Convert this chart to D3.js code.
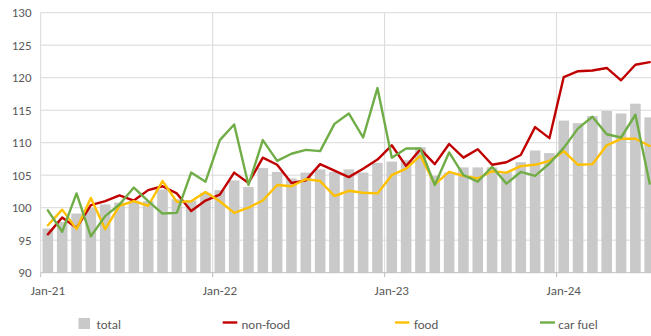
<!DOCTYPE html>
<html>
<head>
<meta charset="utf-8">
<script src="https://cdn.jsdelivr.net/npm/d3@7"></script>
<style>
  html, body { margin: 0; padding: 0; background: #fff; }
  svg { display: block; font-family: Carlito, Lato, "Liberation Sans", sans-serif; }
</style>
</head>
<body>
<svg id="chart" width="651" height="336"></svg>
<script>
// Monthly index values, Jan 2021 – Jul 2024
const months = [
  "2021-01","2021-02","2021-03","2021-04","2021-05","2021-06","2021-07","2021-08","2021-09","2021-10","2021-11","2021-12",
  "2022-01","2022-02","2022-03","2022-04","2022-05","2022-06","2022-07","2022-08","2022-09","2022-10","2022-11","2022-12",
  "2023-01","2023-02","2023-03","2023-04","2023-05","2023-06","2023-07","2023-08","2023-09","2023-10","2023-11","2023-12",
  "2024-01","2024-02","2024-03","2024-04","2024-05","2024-06","2024-07"
];
const total = [96.8, 97.8, 99.1, 100.0, 100.5, 100.8, 101.1, 101.0, 102.8, 101.3, 101.1, 102.3,
               102.7, 104.2, 103.2, 106.1, 105.5, 104.5, 105.4, 105.9, 105.5, 105.9, 105.4, 106.9,
               107.1, 107.3, 109.3, 104.9, 105.4, 106.2, 106.2, 106.2, 105.5, 107.0, 108.8, 108.4,
               113.4, 113.0, 114.1, 114.9, 114.5, 116.0, 113.9];
const nonFood = [95.9, 98.5, 96.9, 100.4, 101.0, 101.9, 101.1, 102.7, 103.3, 102.2, 99.5, 101.1,
                 102.0, 105.4, 103.8, 107.7, 106.6, 103.8, 104.2, 106.7, 105.7, 104.7, 106.0, 107.4,
                 109.6, 106.4, 109.0, 106.7, 109.8, 107.7, 109.0, 106.6, 107.0, 108.1, 112.4, 110.7,
                 120.1, 121.0, 121.1, 121.5, 119.6, 122.0, 122.4];
const food = [97.3, 99.7, 96.7, 101.5, 96.7, 100.3, 101.0, 100.3, 104.1, 100.9, 101.0, 102.4,
              101.0, 99.2, 100.0, 101.1, 103.5, 103.3, 104.4, 104.1, 101.8, 102.6, 102.3, 102.2,
              105.0, 106.0, 108.0, 103.6, 105.5, 104.9, 104.5, 105.6, 105.4, 106.4, 106.6, 107.2,
              108.7, 106.6, 106.7, 109.6, 110.6, 110.6, 109.5];
const carFuel = [99.6, 96.3, 102.2, 95.6, 98.7, 100.5, 103.1, 101.0, 99.1, 99.2, 105.4, 104.0,
                 110.4, 112.8, 103.5, 110.4, 107.2, 108.3, 108.9, 108.7, 112.9, 114.5, 110.8, 118.4,
                 107.7, 109.1, 109.1, 103.5, 108.5, 105.0, 104.0, 106.3, 103.7, 105.5, 104.9, 106.8,
                 109.2, 112.2, 114.0, 111.3, 110.8, 114.3, 103.7];
const yTicks = [90, 95, 100, 105, 110, 115, 120, 125, 130];
const yearStarts = ["2021-01", "2022-01", "2023-01", "2024-01"];
const yearLabels = ["Jan-21", "Jan-22", "Jan-23", "Jan-24"];

const lineSeries = [
  { name: "non-food", values: nonFood, color: "#c00000" },
  { name: "food",     values: food,    color: "#ffc000" },
  { name: "car fuel", values: carFuel, color: "#70ad47" }
];

(function draw() {
  const svg = d3.select("#chart");
  const plotLeft = 40.7, plotTop = 12.7, plotBottom = 272.7;
  const step = 14.33;
  const plotRight = plotLeft + step * months.length;   // runs slightly past the frame edge

  const x = d3.scaleBand().domain(months).range([plotLeft, plotRight]).paddingInner(0.26).paddingOuter(0.13);
  const y = d3.scaleLinear().domain([90, 130]).range([plotBottom, plotTop]);
  const slotStart = m => plotLeft + months.indexOf(m) * step;
  const cx = m => x(m) + x.bandwidth() / 2;

  const textColor = "#595959";
  const gridColor = "#d9d9d9";

  // horizontal gridlines
  svg.append("g").selectAll("line").data(yTicks.filter(v => v > 90)).join("line")
    .attr("x1", plotLeft).attr("x2", 651)
    .attr("y1", d => y(d)).attr("y2", d => y(d))
    .attr("stroke", gridColor).attr("stroke-width", 1);

  // vertical gridlines at each January
  svg.append("g").selectAll("line").data(yearStarts).join("line")
    .attr("x1", d => slotStart(d)).attr("x2", d => slotStart(d))
    .attr("y1", plotTop).attr("y2", plotBottom)
    .attr("stroke", gridColor).attr("stroke-width", 1);

  // total bars
  svg.append("g").selectAll("rect").data(months).join("rect")
    .attr("x", d => x(d))
    .attr("width", x.bandwidth())
    .attr("y", (d, i) => y(total[i]))
    .attr("height", (d, i) => plotBottom - y(total[i]))
    .attr("fill", "#c9c9c9");

  // x axis line and yearly ticks
  svg.append("line")
    .attr("x1", plotLeft).attr("x2", 651).attr("y1", plotBottom).attr("y2", plotBottom)
    .attr("stroke", "#bfbfbf").attr("stroke-width", 1);
  svg.append("g").selectAll("line").data(yearStarts).join("line")
    .attr("x1", d => slotStart(d)).attr("x2", d => slotStart(d))
    .attr("y1", plotBottom).attr("y2", plotBottom + 4.5)
    .attr("stroke", "#bfbfbf").attr("stroke-width", 1);

  // index lines
  const line = d3.line().x((d, i) => cx(months[i])).y(d => y(d));
  svg.append("g").selectAll("path").data(lineSeries).join("path")
    .attr("d", d => line(d.values))
    .attr("fill", "none")
    .attr("stroke", d => d.color)
    .attr("stroke-width", 2.4)
    .attr("stroke-linejoin", "round")
    .attr("stroke-linecap", "round");

  // y labels
  svg.append("g").selectAll("text").data(yTicks).join("text")
    .attr("x", 31.5).attr("y", d => y(d) + 4.6)
    .attr("text-anchor", "end")
    .attr("font-size", 13).attr("fill", textColor)
    .text(d => d);

  // x labels
  svg.append("g").selectAll("text").data(yearStarts).join("text")
    .attr("x", d => cx(d)).attr("y", 294.5)
    .attr("text-anchor", "middle")
    .attr("font-size", 13).attr("fill", textColor)
    .text((d, i) => yearLabels[i]);

  // legend
  const lg = svg.append("g").attr("font-size", 13).attr("fill", textColor);
  lg.append("rect").attr("x", 78.5).attr("y", 318).attr("width", 11.5).attr("height", 11).attr("fill", "#c9c9c9");
  lg.append("text").attr("x", 96.5).attr("y", 328.5).text("total");
  const legendItems = [
    { s: lineSeries[0], x0: 222.7, x1: 237.3, tx: 241.5 },
    { s: lineSeries[1], x0: 395, x1: 409.3, tx: 414 },
    { s: lineSeries[2], x0: 540, x1: 555, tx: 558.3 }
  ];
  legendItems.forEach(it => {
    lg.append("line").attr("x1", it.x0).attr("x2", it.x1).attr("y1", 322.5).attr("y2", 322.5)
      .attr("stroke", it.s.color).attr("stroke-width", 2.4);
    lg.append("text").attr("x", it.tx).attr("y", 328.5).text(it.s.name);
  });
})();
</script>
</body>
</html>
